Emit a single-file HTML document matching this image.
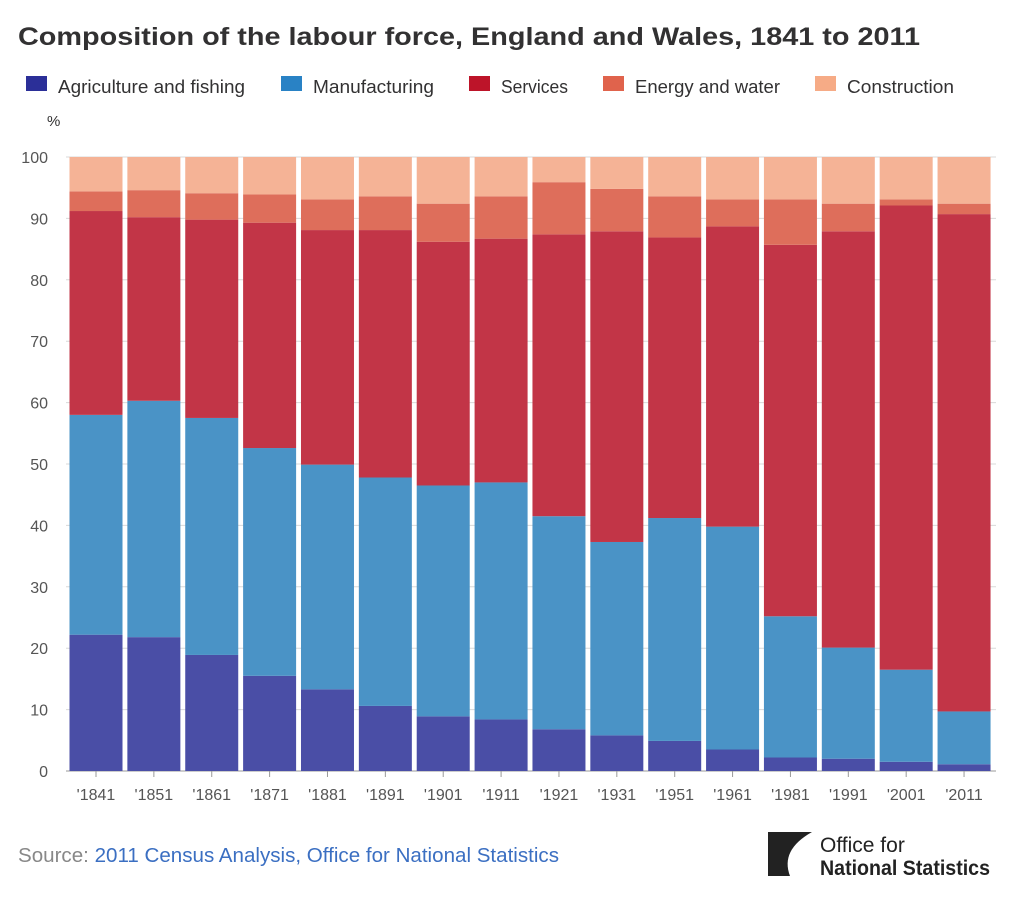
<!DOCTYPE html>
<html><head><meta charset="utf-8"><style>
body{margin:0;background:#fff;font-family:"Liberation Sans",sans-serif;}
</style></head><body>
<svg width="1024" height="910" viewBox="0 0 1024 910" id="c" xmlns="http://www.w3.org/2000/svg">
<text x="18" y="45" font-size="25" font-weight="bold" fill="#323132" textLength="902" lengthAdjust="spacingAndGlyphs">Composition of the labour force, England and Wales, 1841 to 2011</text>
<g id="legend"></g>
<text x="47" y="126" font-size="15" fill="#323132">%</text>
<g id="grid"></g><g id="bars"></g><g id="xt"></g>
<text x="18" y="862" font-size="20" fill="#888" textLength="541" lengthAdjust="spacingAndGlyphs">Source: <tspan fill="#3b6fc2">2011 Census Analysis, Office for National Statistics</tspan></text>
<g>
<rect x="768" y="832" width="44" height="44" fill="#222"/>
<path d="M812 832 Q780 850 790 876 L812 876Z" fill="#fff"/>
<text x="820" y="852" font-size="21" fill="#222">Office for</text>
<text x="820" y="875" font-size="21" font-weight="bold" fill="#222" textLength="170" lengthAdjust="spacingAndGlyphs">National Statistics</text>
</g>
</svg>
<script>
const years=["'1841","'1851","'1861","'1871","'1881","'1891","'1901","'1911","'1921","'1931","'1951","'1961","'1981","'1991","'2001","'2011"];
const agriculture=[22.2,21.8,18.9,15.5,13.3,10.6,8.9,8.4,6.8,5.8,4.9,3.5,2.2,2.0,1.5,1.1];
const manufacturing=[35.8,38.5,38.6,37.1,36.6,37.2,37.6,38.6,34.7,31.5,36.3,36.3,23.0,18.1,15.0,8.6];
const services=[33.2,29.9,32.3,36.7,38.2,40.3,39.7,39.7,45.9,50.6,45.7,48.9,60.5,67.8,75.6,81.0];
const energy=[3.2,4.4,4.3,4.6,5.0,5.5,6.2,6.9,8.5,6.9,6.7,4.4,7.4,4.5,1.0,1.7];
const construction=[5.6,5.4,5.9,6.1,6.9,6.4,7.6,6.4,4.1,5.2,6.4,6.9,6.9,7.6,6.9,7.6];
const seriesNames=["Agriculture and fishing","Manufacturing","Services","Energy and water","Construction"];
const yTicks=[0,10,20,30,40,50,60,70,80,90,100];
const ns="http://www.w3.org/2000/svg";
const barCols=["#4a4ea6","#4a93c6","#c23547","#de6e5b","#f5b396"];
const legCols=["#2b2f98","#2982c5","#bd1429","#e0634c","#f6ab86"];
const legLen=[187,121,67,145,107];
const all=[agriculture,manufacturing,services,energy,construction];
const y=v=>771-v*6.14;
const x=i=>96+i*57.87;
function mk(t,a,p){const e=document.createElementNS(ns,t);for(const k in a)e.setAttribute(k,a[k]);p.appendChild(e);return e;}
const grid=document.getElementById('grid');
yTicks.forEach(t=>{
 const l=mk('line',{x1:66,x2:996,y1:y(t),y2:y(t),stroke:t==0?'#999':'#d8d8d8','stroke-width':1},grid);
 
 
 const tx=mk('text',{x:48,y:y(t)+6,'font-size':16,fill:'#555','text-anchor':'end'},grid);
 tx.textContent=t;
 
 
});
const bars=document.getElementById('bars');
years.forEach((yr,i)=>{
 let c=0;
 all.forEach((s,j)=>{
  const top=c+s[i];
  const r=mk('rect',{x:x(i)-26.5,width:53,y:y(top),height:y(c)-y(top),fill:barCols[j]},bars);
  
  
  c=top;
 });
 const tx=mk('text',{x:x(i),y:800,'font-size':16,fill:'#555','text-anchor':'middle'},document.getElementById('xt'));
 tx.textContent=yr;
 
 
 const tk=mk('line',{x1:x(i),x2:x(i),y1:771,y2:777,stroke:'#999'},document.getElementById('xt'));
 
 
});
const lg=document.getElementById('legend');
const lx=[26,281,469,603,815];
seriesNames.forEach((n,j)=>{
 const g=mk('g',{},lg);
 
 
 mk('rect',{x:lx[j],y:76,width:21,height:15,fill:legCols[j]},g);
 const t=mk('text',{x:lx[j]+32,y:93,'font-size':18,fill:'#323132',textLength:legLen[j],lengthAdjust:'spacingAndGlyphs'},g);
 t.textContent=n;
});
</script>
</body></html>
